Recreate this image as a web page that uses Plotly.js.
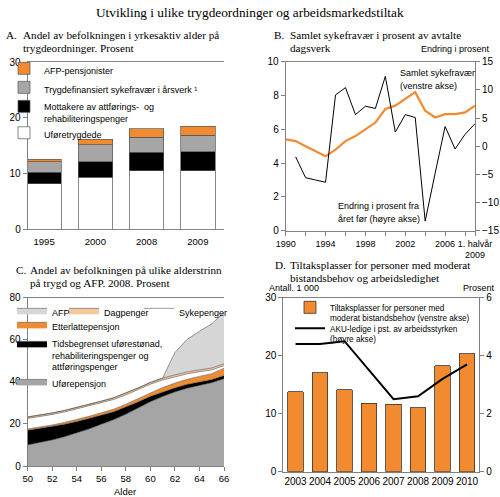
<!DOCTYPE html>
<html>
<head>
<meta charset="utf-8">
<script src="https://cdn.plot.ly/plotly-3.0.1.min.js"></script>
<style>html,body{margin:0;padding:0;background:#fff}</style>
</head>
<body>
<div id="chart" style="width:500px;height:497px"></div>
<script>
// A. andel av befolkningen i yrkesaktiv alder (prosent)
var aYears = ['1995', '2000', '2008', '2009']
var aUfore = [8.1, 9.3, 10.5, 10.5]
var aAttforing = [2.1, 2.8, 3.3, 3.4]
var aSykefravaer = [1.9, 3.0, 2.7, 2.9]
var aAfp = [0.4, 1.0, 1.5, 1.7]

// B. sykefravær (venstre) og endring fra året før (høyre)
var bYears = [1990, 1991, 1992, 1993, 1994, 1995, 1996, 1997, 1998, 1999,
              2000, 2001, 2002, 2003, 2004, 2005, 2006, 2007, 2008, 2009]
var bSykefravaer = [5.4, 5.3, 5.0, 4.7, 4.4, 4.8, 5.3, 5.6, 6.0, 6.4,
                    7.2, 7.4, 7.8, 8.2, 7.1, 6.7, 6.9, 6.9, 7.0, 7.4]
var bEndYears = [1991, 1992, 1993, 1994, 1995, 1996, 1997, 1998, 1999,
                 2000, 2001, 2002, 2003, 2004, 2005, 2006, 2007, 2008, 2009]
var bEndring = [-1.9, -5.6, -6.0, -6.4, 9.1, 10.4, 5.6, 7.1, 6.7,
                12.4, 2.5, 5.6, 5.1, -13.3, -4.8, 3.5, -0.5, 2.1, 4.0]
var bTickVals = [1990, 1992, 1994, 1996, 1998, 2000, 2002, 2004, 2006, 2008, 2009]
var bTickText = ['1990', '', '1994', '', '1998', '', '2002', '', '2006', '', '1. halvår<br>2009']

// C. andel på trygd og AFP etter alder, 2008
var cAge = [50, 51, 52, 53, 54, 55, 56, 57, 58, 59, 60, 61, 62, 63, 64, 65, 66]
var cUforepensjon = [10.0, 11.1, 12.4, 13.9, 15.6, 17.6, 19.8, 22.0, 24.6, 27.5, 30.5, 33.0, 35.2, 37.0, 38.4, 39.6, 41.5]
var cTidsbegrenset = [7.0, 6.8, 6.4, 6.0, 5.6, 5.0, 4.4, 3.8, 3.4, 3.0, 2.6, 2.3, 2.0, 1.8, 1.6, 1.5, 1.5]
var cEtterlatte = [0.6, 0.6, 0.7, 0.8, 0.9, 1.0, 1.1, 1.2, 1.4, 1.6, 1.8, 2.0, 2.2, 2.4, 2.6, 2.8, 3.5]
var cSykepenger = [5.0, 5.0, 5.0, 5.0, 5.0, 4.9, 4.8, 4.6, 4.4, 4.2, 4.0, 3.6, 3.0, 2.6, 2.2, 1.8, 1.2]
var cDagpenger = [0.7, 0.7, 0.7, 0.7, 0.7, 0.7, 0.7, 0.8, 0.8, 0.8, 0.8, 0.9, 0.9, 0.9, 0.9, 0.9, 0.9]
var cAfp = [0, 0, 0, 0, 0, 0, 0, 0, 0, 0, 0, 0, 10.7, 15.5, 18.3, 21.0, 24.4]

// D. tiltaksplasser (1000) og AKU-ledighet (prosent)
var dYears = ['2003', '2004', '2005', '2006', '2007', '2008', '2009', '2010']
var dTiltak = [13.8, 17.1, 14.1, 11.8, 11.6, 11.0, 18.3, 20.3]
var dAku = [4.4, 4.4, 4.5, 3.5, 2.5, 2.6, 3.2, 3.7]

var W = 500, H = 497
var SANS = 'Liberation Sans, Arial, sans-serif'
var SERIF = 'Liberation Serif, Times New Roman, serif'
var ORANGE = '#f28a30'
var AXC = '#808080'
var TITLE = 11.2

function px(x) { return x / W }
function py(y) { return 1 - y / H }

function ax(extra) {
    var a = {
        showline: true, linecolor: AXC, linewidth: 1,
        ticks: 'outside', ticklen: 4, tickcolor: AXC,
        tickfont: {family: SANS, size: 10, color: '#000'},
        showgrid: false, zeroline: false, fixedrange: true
    }
    for (var k in extra) a[k] = extra[k]
    return a
}

function txt(s, x, y, size, font, anchor) {
    return {
        text: s, x: px(x), y: py(y), xref: 'paper', yref: 'paper',
        xanchor: anchor || 'left', yanchor: 'middle', showarrow: false,
        font: {family: font || SANS, size: size || 9, color: '#000'}
    }
}

function area(name, y, fill, legend) {
    return {
        x: cAge, y: y, name: name, type: 'scatter', mode: 'lines',
        stackgroup: 'c', fillcolor: fill,
        line: {color: '#555', width: 0.6},
        xaxis: 'x3', yaxis: 'y5', legend: legend
    }
}

var barLine = {color: '#555', width: 0.7}

var data = [
    // A
    {x: aYears, y: aUfore, name: 'Uføretrygdede', type: 'bar', width: 0.675,
     marker: {color: '#fff', line: barLine}, xaxis: 'x', yaxis: 'y'},
    {x: aYears, y: aAttforing, name: 'Mottakere av attførings-  og<br>rehabiliteringspenger', type: 'bar', width: 0.675,
     marker: {color: '#000', line: barLine}, xaxis: 'x', yaxis: 'y'},
    {x: aYears, y: aSykefravaer, name: 'Trygdefinansiert sykefravær i årsverk ¹', type: 'bar', width: 0.675,
     marker: {color: '#a6a6a6', line: barLine}, xaxis: 'x', yaxis: 'y'},
    {x: aYears, y: aAfp, name: 'AFP-pensjonister', type: 'bar', width: 0.675,
     marker: {color: ORANGE, line: barLine}, xaxis: 'x', yaxis: 'y'},

    // B
    {x: bYears, y: bSykefravaer, type: 'scatter', mode: 'lines', showlegend: false,
     line: {color: ORANGE, width: 2.2}, xaxis: 'x2', yaxis: 'y3'},
    {x: bEndYears, y: bEndring, type: 'scatter', mode: 'lines', showlegend: false,
     line: {color: '#000', width: 1}, xaxis: 'x2', yaxis: 'y4'},

    // C
    area('Uførepensjon', cUforepensjon, '#a5a5a5', 'legend5'),
    area('Tidsbegrenset uførestønad,<br>rehabiliteringspenger og<br>attføringspenger', cTidsbegrenset, '#000', 'legend5'),
    area('Etterlattepensjon', cEtterlatte, ORANGE, 'legend5'),
    area('Sykepenger', cSykepenger, '#fff', 'legend4'),
    area('Dagpenger', cDagpenger, '#f5c99b', 'legend3'),
    area('AFP', cAfp, '#d6d6d6', 'legend2'),

    // D
    {x: dYears, y: dTiltak, name: 'Tiltaksplasser for personer med<br>moderat bistandsbehov (venstre akse)',
     type: 'bar', width: 0.64, marker: {color: ORANGE, line: {color: '#333', width: 0.8}},
     xaxis: 'x4', yaxis: 'y7', legend: 'legend6'},
    {x: dYears, y: dAku, name: 'AKU-ledige i pst. av arbeidsstyrken<br>(høyre akse)',
     type: 'scatter', mode: 'lines', line: {color: '#000', width: 2},
     xaxis: 'x4', yaxis: 'y8', legend: 'legend7'}
]

var legFont = {family: SANS, size: 9, color: '#000'}
var dLegFont = {family: SANS, size: 8.2, color: '#000'}
function leg(x, y, extra) {
    var l = {x: px(x), y: py(y), xanchor: 'left', yanchor: 'top', xref: 'paper', yref: 'paper',
             bgcolor: 'rgba(0,0,0,0)', font: legFont, valign: 'top'}
    for (var k in extra) l[k] = extra[k]
    return l
}

var layout = {
    width: W, height: H,
    margin: {l: 0, r: 0, t: 0, b: 0},
    paper_bgcolor: '#fff', plot_bgcolor: 'rgba(0,0,0,0)',
    barmode: 'stack',
    showlegend: true,

    // A
    xaxis: ax({domain: [px(27.7), px(224)], anchor: 'y', type: 'category', range: [-0.32, 3.51],
               ticks: '', mirror: true, ticklabelstandoff: 4, tickangle: 0,
               tickfont: {family: SANS, size: 9.5, color: '#000'}}),
    yaxis: ax({domain: [py(229), py(62)], anchor: 'x', range: [0, 30], dtick: 10}),
    yaxis2: ax({overlaying: 'y', anchor: 'x', side: 'right', range: [0, 30], dtick: 10}),

    // B
    xaxis2: ax({domain: [px(285.7), px(475)], anchor: 'y3', range: [1990, 2009], mirror: true,
                tickvals: bTickVals, ticktext: bTickText, tickangle: 0,
                tickfont: {family: SANS, size: 9, color: '#000'}}),
    yaxis3: ax({domain: [py(230.7), py(61.7)], anchor: 'x2', range: [0, 10], dtick: 2}),
    yaxis4: ax({overlaying: 'y3', anchor: 'x2', side: 'right', range: [-15, 15], dtick: 5}),

    // C
    xaxis3: ax({domain: [px(27.7), px(224)], anchor: 'y5', range: [50, 66], dtick: 2, mirror: true,
                tickangle: 0, tickfont: {family: SANS, size: 9.5, color: '#000'}}),
    yaxis5: ax({domain: [py(466), py(297.7)], anchor: 'x3', range: [0, 80], dtick: 20}),
    yaxis6: ax({overlaying: 'y5', anchor: 'x3', side: 'right', range: [0, 80], dtick: 20}),

    // D
    xaxis4: ax({domain: [px(283.3), px(479.3)], anchor: 'y7', type: 'category', range: [-0.5, 7.5],
                mirror: true, ticks: '', tickangle: 0, tickfont: {family: SANS, size: 10, color: '#000'}}),
    yaxis7: ax({domain: [py(471.7), py(297.7)], anchor: 'x4', range: [0, 30], dtick: 10}),
    yaxis8: ax({overlaying: 'y7', anchor: 'x4', side: 'right', range: [0, 6], dtick: 2}),

    legend: leg(4, 56, {traceorder: 'reversed'}),
    legend2: leg(12, 298),
    legend3: leg(64, 298),
    legend4: leg(139, 298),
    legend5: leg(12, 312, {traceorder: 'reversed'}),
    legend6: leg(290, 295.5, {font: dLegFont}),
    legend7: leg(290, 316.5, {font: dLegFont}),

    annotations: [
        txt('Utvikling i ulike trygdeordninger og arbeidsmarkedstiltak', 250, 13, 13.3, SERIF, 'center'),

        txt('A.', 4, 35, TITLE, SERIF),
        txt('Andel av befolkningen i yrkesaktiv alder på', 20.5, 35, TITLE, SERIF),
        txt('trygdeordninger. Prosent', 20.5, 48.3, TITLE, SERIF),

        txt('B.', 271.7, 35, TITLE, SERIF),
        txt('Samlet sykefravær i prosent av avtalte', 287.7, 35, TITLE, SERIF),
        txt('dagsverk', 287.7, 48.3, TITLE, SERIF),
        txt('Endring i prosent', 492, 49, 9, SANS, 'right'),
        txt('Samlet sykefravær', 398, 73, 9),
        txt('(venstre akse)', 398, 86, 9),
        txt('Endring i prosent fra', 336, 206, 9),
        txt('året før (høyre akse)', 336, 218.5, 9),

        txt('C.', 14, 270, TITLE, SERIF),
        txt('Andel av befolkningen på ulike alderstrinn', 28, 270, TITLE, SERIF),
        txt('på trygd og AFP. 2008. Prosent', 28, 283.3, TITLE, SERIF),
        txt('Alder', 125, 491, 9.5, SANS, 'center'),

        txt('D.', 273.3, 265, TITLE, SERIF),
        txt('Tiltaksplasser for personer med moderat', 288.3, 265, TITLE, SERIF),
        txt('bistandsbehov og arbeidsledighet', 288.3, 278.3, TITLE, SERIF),
        txt('Antall. 1 000', 266.5, 287.5, 9),
        txt('Prosent', 497, 287.5, 9, SANS, 'right')
    ]
}

Plotly.newPlot('chart', data, layout, {displayModeBar: false, staticPlot: true})
</script>
</body>
</html>
